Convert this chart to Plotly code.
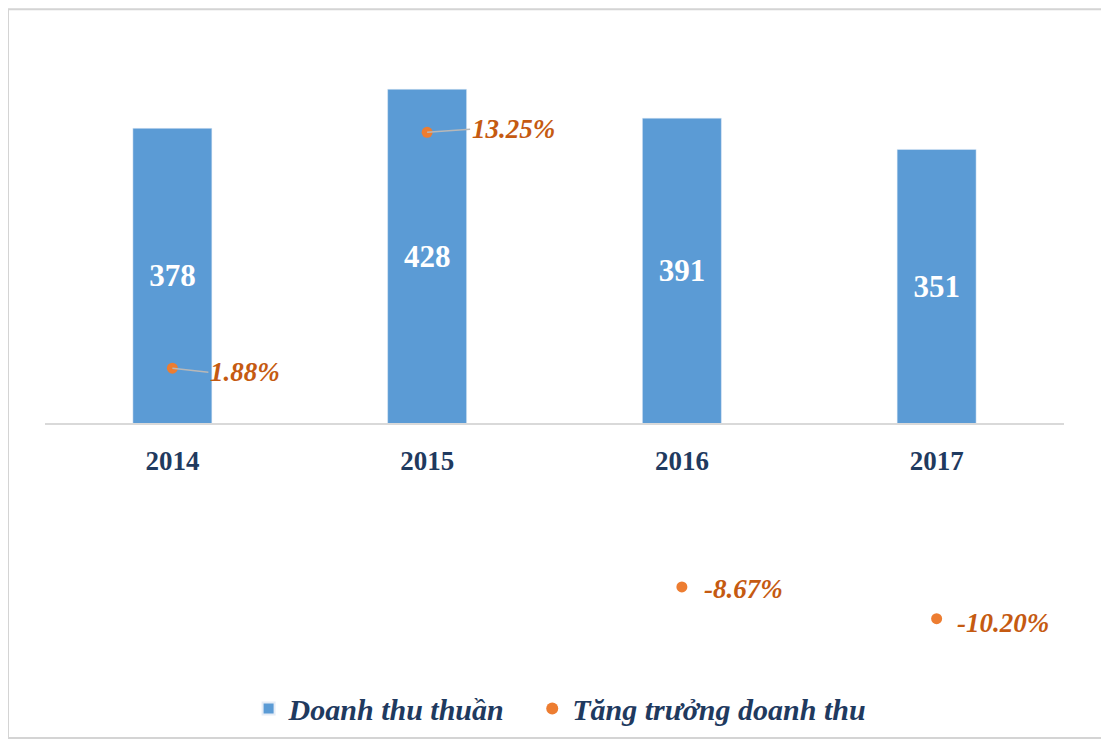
import plotly.graph_objects as go

# du lieu doc tu hinh
nam = ["2014", "2015", "2016", "2017"]
doanh_thu = [378, 428, 391, 351]
tang_truong = [1.88, 13.25, -8.67, -10.20]
nhan_tang_truong = ["1.88%", "13.25%", "-8.67%", "-10.20%"]
co_duong_dan = [True, True, False, False]

XANH = "#5B9BD5"
CAM = "#ED7D31"
CHU = "#1F3A5F"
FONT = "Liberation Serif, Times New Roman, serif"

y1_range = [-296, 491]
y2_range = [-11.95, 17.7]

fig = go.Figure()
fig.add_trace(
    go.Bar(
        x=nam,
        y=doanh_thu,
        name="Doanh thu thuần\u00a0\u00a0\u00a0",
        marker_color=XANH,
        text=[str(v) for v in doanh_thu],
        textposition="inside",
        insidetextanchor="middle",
        textfont=dict(family=FONT, size=31, color="white", weight="bold"),
        yaxis="y",
    )
)
fig.add_trace(
    go.Scatter(
        x=nam,
        y=tang_truong,
        name="Tăng trưởng doanh thu",
        mode="markers",
        marker=dict(color=CAM, size=11),
        yaxis="y2",
    )
)

# nhan phan tram (co duong dan nhu Excel)
lech = [(36, 4), (43, -3), (20, 2), (18, 4)]
for i, (y, t, d, (ax, ay)) in enumerate(zip(tang_truong, nhan_tang_truong, co_duong_dan, lech)):
    fig.add_annotation(
        x=i, y=y, xref="x", yref="y2",
        text=t,
        showarrow=True,
        arrowhead=0,
        arrowwidth=1.5,
        arrowcolor="#b8b8b8" if d else "rgba(0,0,0,0)",
        ax=ax, ay=ay,
        xanchor="left",
        yanchor="middle",
        font=dict(family=FONT, size=27, color="#C55A11", style="italic", weight="bold"),
    )

# khung vien
fig.add_shape(
    type="rect", xref="paper", yref="paper",
    x0=-0.0363, x1=1.038, y0=-0.135, y1=1.05,
    line=dict(color="#d4d4d4", width=2),
)

fig.update_layout(
    width=1101,
    height=738,
    margin=dict(l=37, r=45, t=32, b=86),
    paper_bgcolor="white",
    plot_bgcolor="white",
    bargap=0.69,
    showlegend=True,
    legend=dict(
        orientation="h",
        x=0.505, xanchor="center",
        y=-0.087, yanchor="middle",
        font=dict(family=FONT, size=30, color=CHU, style="italic", weight="bold"),
        itemsizing="constant",
    ),
    xaxis=dict(
        type="category",
        range=[-0.5, len(nam) - 0.5],
        anchor="free",
        position=(0 - y1_range[0]) / (y1_range[1] - y1_range[0]),
        showline=True,
        linecolor="#d9d9d9",
        linewidth=2,
        ticks="outside",
        ticklen=13,
        tickcolor="rgba(0,0,0,0)",
        tickfont=dict(family=FONT, size=27, color=CHU, weight="bold"),
        showgrid=False,
    ),
    yaxis=dict(range=y1_range, visible=False, showgrid=False, zeroline=False),
    yaxis2=dict(range=y2_range, overlaying="y", side="right", visible=False,
                showgrid=False, zeroline=False),
)

fig.write_html("out.html")
